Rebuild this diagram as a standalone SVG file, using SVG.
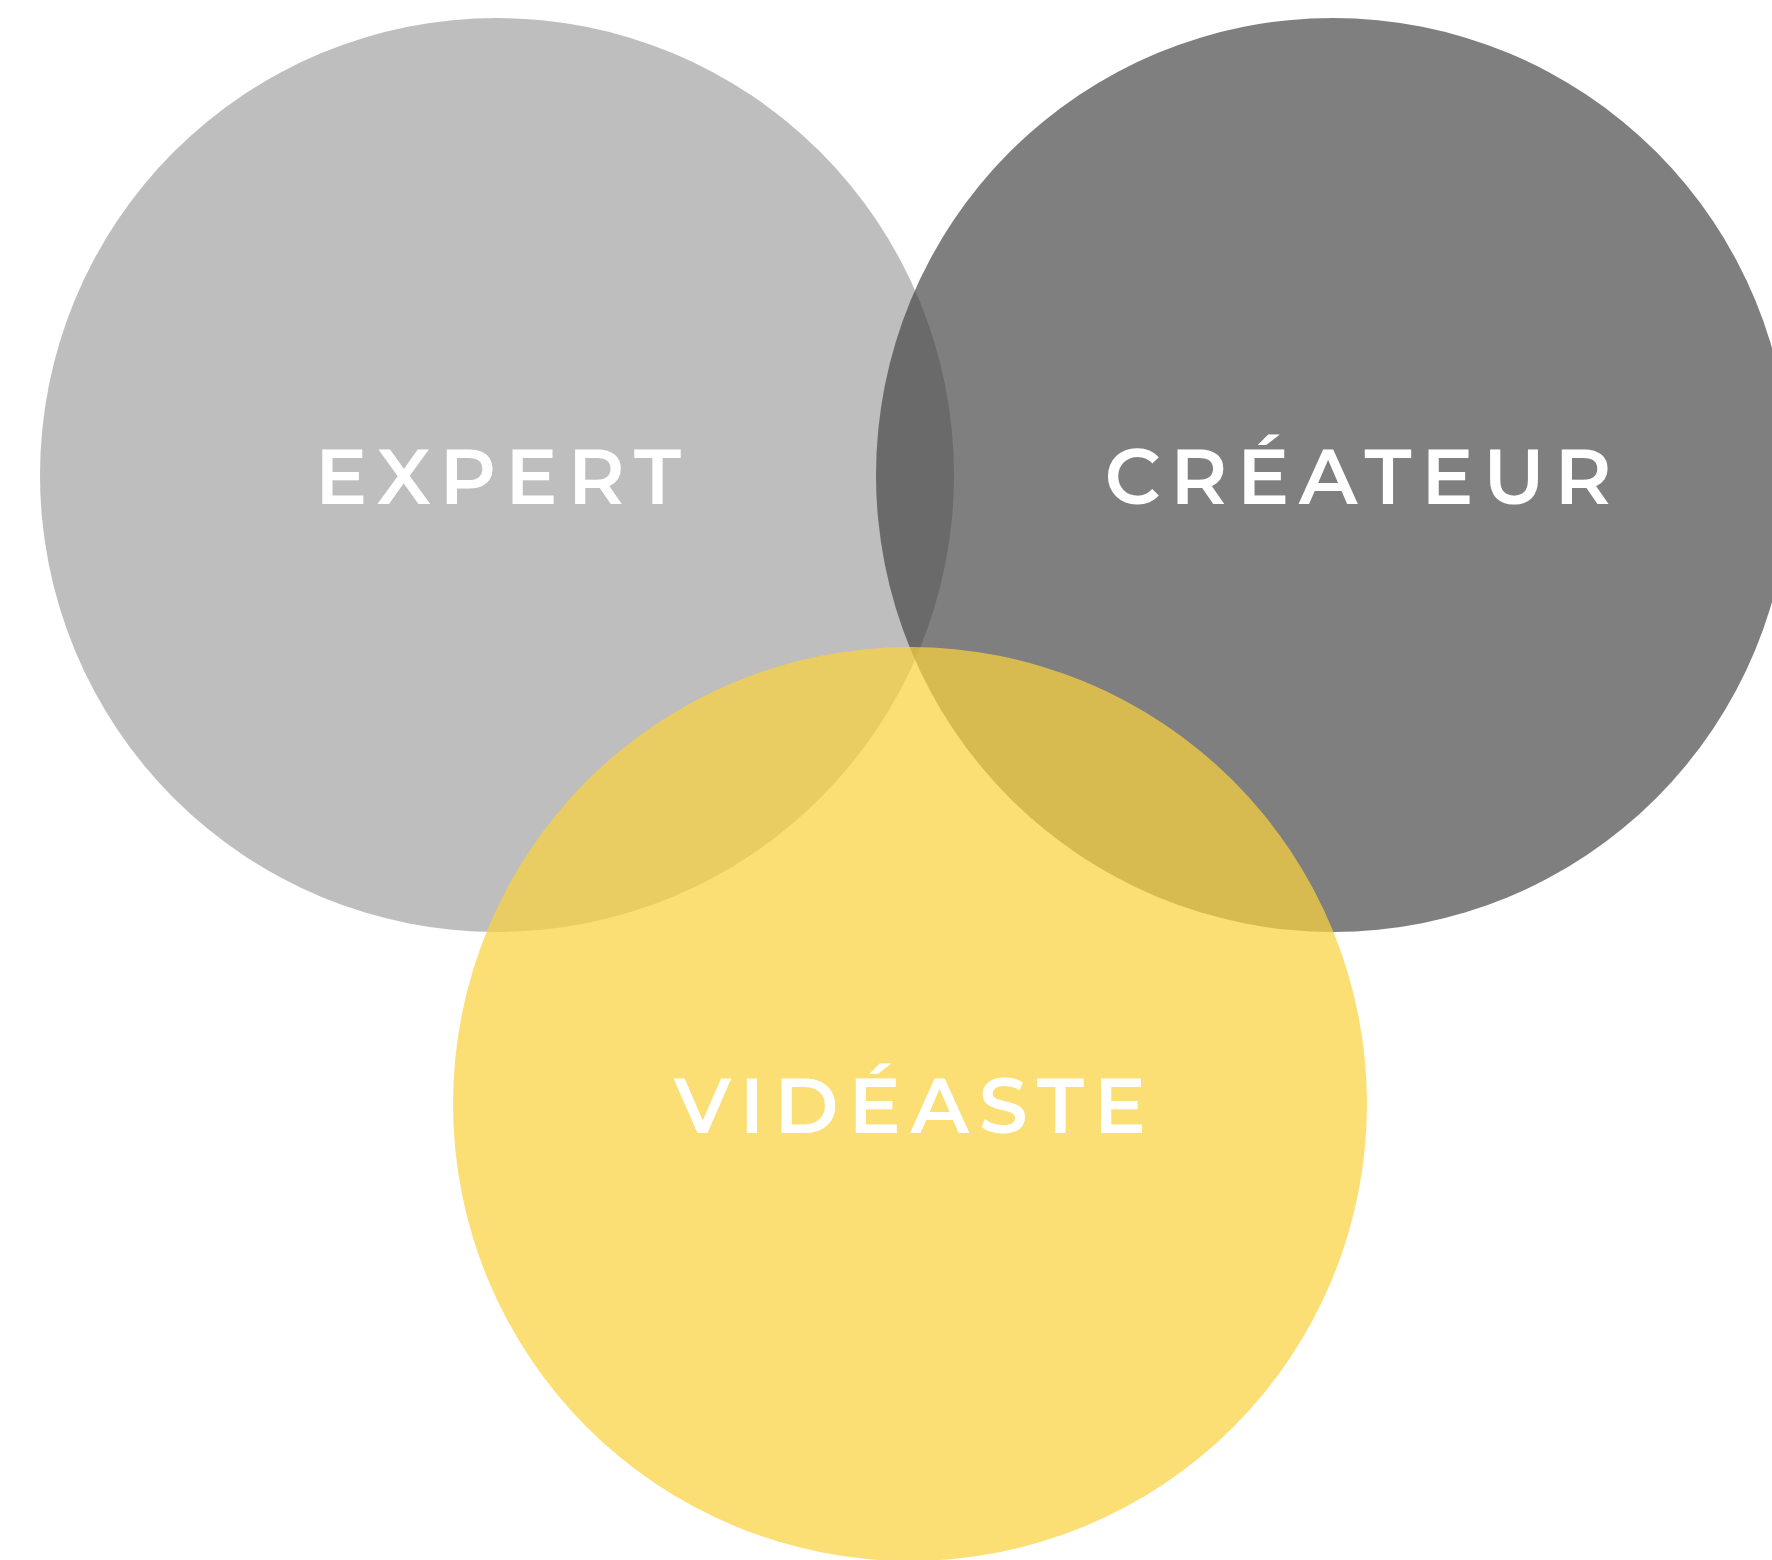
<svg xmlns="http://www.w3.org/2000/svg" width="1772" height="1560" viewBox="0 0 1772 1560">
<style>
.lbl{font-family:"Montserrat","Noto Sans","Open Sans","DejaVu Sans",sans-serif;font-weight:600;font-size:78px;fill:#ffffff;text-anchor:middle}
</style>
<rect width="1772" height="1560" fill="#ffffff"/>
<g id="node-createur">
<circle cx="1333" cy="475" r="457" fill="#454545" fill-opacity="0.69"/>
</g>
<g id="node-expert">
<circle cx="497" cy="475" r="457" fill="#444444" fill-opacity="0.35"/>
</g>
<g id="node-videaste">
<circle cx="910" cy="1104" r="457" fill="#fbd23e" fill-opacity="0.72"/>
</g>
<g id="labels">
<text class="lbl" x="498" y="504" textLength="366" lengthAdjust="spacing">EXPERT</text>
<text class="lbl" x="1358" y="504" textLength="507" lengthAdjust="spacing">CRÉATEUR</text>
<text class="lbl" x="910" y="1133" textLength="472" lengthAdjust="spacing">VIDÉASTE</text>
</g>
<g id="connectors"></g>
</svg>
